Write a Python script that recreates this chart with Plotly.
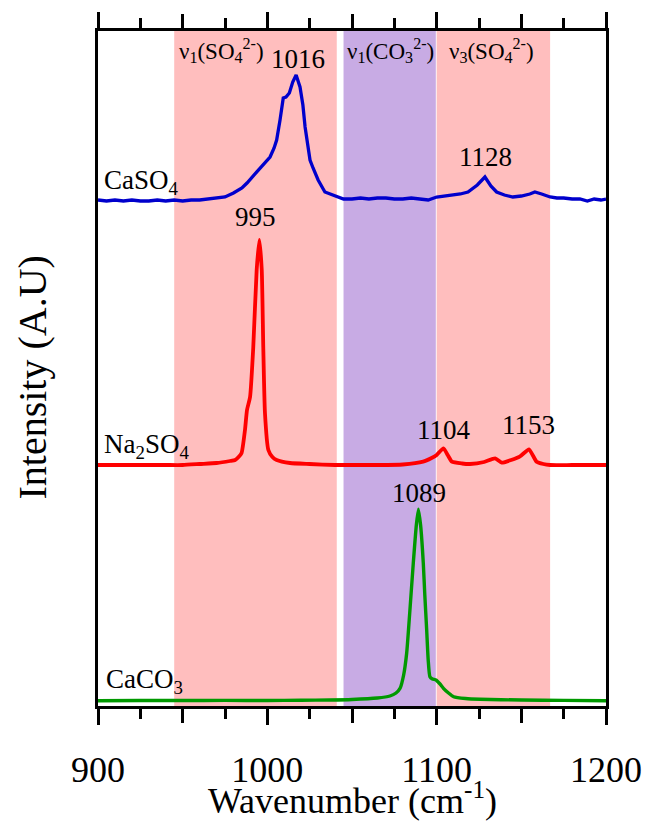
import plotly.graph_objects as go

# ---------------- data ----------------
caso4_x = [900, 905, 910, 915, 920, 925, 930, 935, 940, 945, 950, 955, 960, 965, 970, 975, 980, 985, 988, 992,
           995.7, 998, 1001.6, 1004, 1005.5, 1007.5, 1009.4, 1011, 1013, 1015, 1017, 1019.3, 1021, 1022.3, 1024,
           1025.2, 1027, 1030, 1034, 1037, 1041, 1045, 1050, 1055, 1060, 1065, 1070, 1075, 1080, 1085, 1090, 1095,
           1100, 1105, 1110, 1114, 1118.5, 1124, 1128.5, 1132, 1135.4, 1140, 1145, 1150, 1155, 1158, 1162, 1167,
           1171, 1175, 1180, 1184.6, 1189, 1193, 1197, 1200]
caso4_y = [506, 505, 506, 505, 506, 505, 505, 506, 505, 506, 505, 506, 506, 507, 508, 509, 513, 518, 523, 531,
           538, 543, 549, 558, 566, 586, 608, 609, 613, 624, 631, 619, 601, 579, 558,
           546, 538, 526, 514, 512, 509, 507, 507, 508, 507, 508, 508, 507, 507, 508, 507, 506,
           509, 510, 511, 512, 514, 521, 529, 520, 514, 511, 509, 510, 512, 514, 512, 509,
           508, 508, 507, 507, 505, 507, 506, 507]

na2so4_x = [900, 920, 940, 950, 960, 970, 978, 981, 983, 984.8, 986.8, 988, 989.8, 991.7, 993.7, 995.3, 996.7,
            997.6, 998.6, 1000.6, 1003, 1005.5, 1013.4, 1025, 1040, 1050, 1065, 1080, 1092, 1097, 1100, 1104,
            1106.5, 1109, 1115, 1119.7, 1128, 1134.5, 1138.4, 1144, 1149, 1154.5, 1157, 1159, 1163, 1167, 1180, 1200]
na2so4_y = [241, 241, 241, 241, 242, 243, 245, 246, 249, 253, 276, 296, 309, 359, 436, 466, 436,
            359, 293, 256, 249, 246, 243, 242, 241, 241, 241, 241.5, 244.3, 248, 251, 257.7,
            251, 244.3, 242.5, 242, 244, 247.7, 243.3, 246, 249.3, 256.7, 250, 244.3, 242, 241, 241, 241]

caco3_x = [900, 925, 950, 975, 1000, 1020, 1037, 1050, 1065, 1072.4, 1076, 1078.4, 1080.5, 1082.3, 1084, 1086.2,
           1088, 1089.2, 1090.5, 1092.1, 1093, 1094.1, 1095, 1096, 1097.5, 1099.6, 1102, 1104, 1107, 1110, 1117,
           1125.6, 1150, 1175, 1200]
caco3_y = [5.3, 5.5, 5.5, 5.6, 5.5, 5.8, 6, 6.5, 8, 10, 13, 17.7, 31, 53, 91, 143,
           181, 196.7, 181, 143, 111, 76, 46, 29.3, 27, 26, 22, 17.7, 13, 9.3, 7.5,
           6.7, 6, 5.6, 5.3]

band_starts = [945, 1045, 1100]
band_ends = [1041, 1099.5, 1167]
band_colors = ["#FFBEBE", "#C8ABE4", "#FFBEBE"]
band_labels = ["ν<sub>1</sub>(SO<sub>4</sub><sup>2-</sup>)",
               "ν<sub>1</sub>(CO<sub>3</sub><sup>2-</sup>)",
               "ν<sub>3</sub>(SO<sub>4</sub><sup>2-</sup>)"]
band_label_x = [946.7, 1045.9, 1106.1]
band_label_y = 656

peak_labels = ["1016", "1128", "995", "1104", "1153", "1089"]
peak_label_x = [1018, 1129, 993, 1104, 1154.5, 1089.6]
peak_label_y = [647, 549, 489, 276, 281, 213]

series_names = ["CaSO<sub>4</sub>", "Na<sub>2</sub>SO<sub>4</sub>", "CaCO<sub>3</sub>"]
series_label_x = [902.5, 902.5, 903.5]
series_label_y = [524, 260, 25]

x_major = [900, 1000, 1100, 1200]
x_mid = [900, 950, 1000, 1050, 1100, 1150, 1200]

FONT = "Liberation Serif, Times New Roman, serif"

fig = go.Figure()
fig.add_trace(go.Scatter(x=caso4_x, y=caso4_y, mode="lines", line=dict(color="#0000CC", width=3.3), showlegend=False))
fig.add_trace(go.Scatter(x=na2so4_x, y=na2so4_y, mode="lines", line=dict(color="#FF0000", width=3.8, shape="spline", smoothing=0.5), showlegend=False))
fig.add_trace(go.Scatter(x=caco3_x, y=caco3_y, mode="lines", line=dict(color="#009900", width=3.4, shape="spline", smoothing=0.5), showlegend=False))
# invisible trace to anchor overlay axis
fig.add_trace(go.Scatter(x=[900, 1200], y=[0, 0], xaxis="x2", mode="lines", line=dict(width=0), hoverinfo="skip", showlegend=False))

for s, e, c in zip(band_starts, band_ends, band_colors):
    fig.add_shape(type="rect", xref="x", yref="paper", x0=s, x1=e, y0=0, y1=1,
                  fillcolor=c, line=dict(width=0), layer="below")

for t, x in zip(band_labels, band_label_x):
    fig.add_annotation(x=x, y=band_label_y, text=t, showarrow=False, xanchor="left", yanchor="middle",
                       font=dict(family=FONT, size=23, color="black"))
for t, x, y in zip(peak_labels, peak_label_x, peak_label_y):
    fig.add_annotation(x=x, y=y, text=t, showarrow=False, xanchor="center", yanchor="middle",
                       font=dict(family=FONT, size=27, color="black"))
for t, x, y in zip(series_names, series_label_x, series_label_y):
    fig.add_annotation(x=x, y=y, text=t, showarrow=False, xanchor="left", yanchor="middle",
                       font=dict(family=FONT, size=27, color="black"))

# axis titles
fig.add_annotation(xref="paper", yref="paper", x=0, y=0.5, xshift=-66, yshift=-9,
                   text="Intensity (A.U)", textangle=-90, showarrow=False,
                   xanchor="center", yanchor="middle", font=dict(family=FONT, size=40, color="black"))
fig.add_annotation(xref="paper", yref="paper", x=0.5, y=0, yshift=-117,
                   text="Wavenumber (cm<sup>-1</sup>)", showarrow=False,
                   xanchor="center", yanchor="bottom", font=dict(family=FONT, size=36, color="black"))

fig.update_layout(
    width=648, height=823,
    margin=dict(l=98, r=42, t=31, b=117, autoexpand=False),
    plot_bgcolor="white", paper_bgcolor="white",
    font=dict(family=FONT, color="black"),
    xaxis=dict(range=[900, 1200], tickvals=x_mid, automargin=False,
               ticktext=[str(v) if v in x_major else "" for v in x_mid],
               ticks="outside", ticklen=14, tickwidth=3, tickcolor="black",
               minor=dict(dtick=25, tick0=900, ticks="outside", ticklen=10, tickwidth=3, tickcolor="black"),
               showline=True, linewidth=3, linecolor="black", mirror="ticks",
               showgrid=False, zeroline=False, tickfont=dict(family=FONT, size=36),
               ticklabelstandoff=16),
    xaxis2=dict(range=[900, 1200], overlaying="x", anchor="y", side="bottom", tickvals=x_major, automargin=False,
                showticklabels=False, ticks="outside", ticklen=18, tickwidth=3, tickcolor="black",
                mirror="ticks", showline=False, showgrid=False, zeroline=False),
    yaxis=dict(range=[0, 675], showticklabels=False, ticks="", showline=True, linewidth=3, automargin=False,
               linecolor="black", mirror=True, showgrid=False, zeroline=False),
)

fig.write_html("out.html")
